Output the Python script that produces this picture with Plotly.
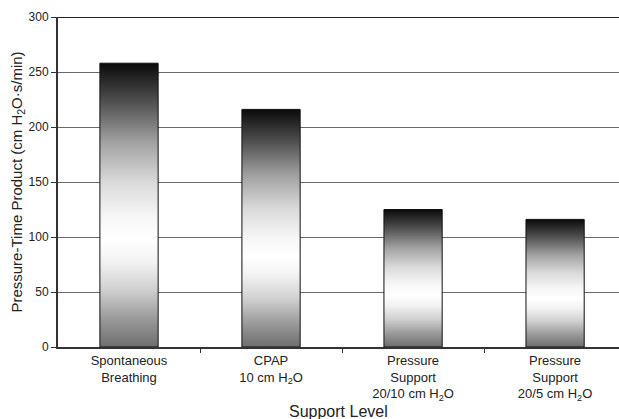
import plotly.graph_objects as go

categories = ["Spontaneous<br>Breathing", "CPAP<br>10 cm H<sub>2</sub>O",
              "Pressure<br>Support<br>20/10 cm H<sub>2</sub>O",
              "Pressure<br>Support<br>20/5 cm H<sub>2</sub>O"]
values = [258, 216, 125, 116]
y_ticks = [0, 50, 100, 150, 200, 250, 300]

bar_width = 0.41
gradient = [[0.0, "#6e6e6e"], [0.1, "#9a9a9a"], [0.2, "#cfcfcf"], [0.3, "#f2f2f2"],
            [0.38, "#ffffff"], [0.46, "#f6f6f6"], [0.58, "#dadada"], [0.72, "#a2a2a2"],
            [0.86, "#525252"], [1.0, "#0a0a0a"]]

fig = go.Figure()
for i, v in enumerate(values):
    x0, x1 = i - bar_width / 2, i + bar_width / 2
    fig.add_trace(go.Scatter(
        x=[x0, x1, x1, x0, x0], y=[0, 0, v, v, 0],
        mode="lines", fill="toself",
        fillgradient=dict(type="vertical", colorscale=gradient),
        line=dict(color="#111111", width=1),
        showlegend=False, hoverinfo="skip"))

font = "Liberation Sans, Arial, sans-serif"
fig.update_layout(
    width=619, height=419,
    margin=dict(l=58, r=0, t=17, b=72),
    paper_bgcolor="white", plot_bgcolor="white",
    font=dict(family=font, size=12, color="#222222"),
    xaxis=dict(
        range=[-0.5, 3.45], tickmode="array", tickvals=list(range(len(categories))),
        ticktext=categories, ticks="", showgrid=False, zeroline=False, automargin=False,
        showline=True, linecolor="#333333", linewidth=2,
        tickfont=dict(size=13, color="#222222"),
        minor=dict(tickmode="array", tickvals=[0.5, 1.5, 2.5], ticks="outside",
                   ticklen=4, tickcolor="#333333", tickwidth=1, showgrid=False),
    ),
    yaxis=dict(
        range=[0, 300], tickmode="array", tickvals=y_ticks, automargin=False,
        ticks="outside", ticklen=5, tickcolor="#333333", tickwidth=1,
        showgrid=True, gridcolor="#6a6a6a", gridwidth=1, zeroline=False,
        showline=True, linecolor="#333333", linewidth=2,
        tickfont=dict(size=12, color="#222222"),
        title=dict(text="Pressure-Time Product (cm H<sub>2</sub>O·s/min)",
                   font=dict(size=15, color="#222222"), standoff=2),
    ),
    shapes=[dict(type="line", xref="paper", yref="y", x0=0, x1=1, y0=300, y1=300,
                 line=dict(color="#222222", width=2), layer="below")],
    annotations=[dict(text="Support Level", xref="paper", yref="paper",
                      x=0.5, y=-0.196, xanchor="center", yanchor="middle",
                      showarrow=False, font=dict(size=16, color="#222222"))],
)

fig.write_html("out.html", config={"displayModeBar": False},
               post_script="document.body.style.margin='0';document.body.style.overflow='hidden';")
